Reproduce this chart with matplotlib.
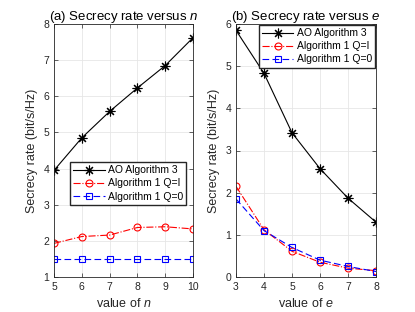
import numpy as np
import matplotlib
matplotlib.use("Agg")
from matplotlib import pyplot as plt

plt.rcParams['font.family'] = ['Liberation Sans', 'DejaVu Sans']
plt.rcParams['mathtext.fontset'] = 'custom'
plt.rcParams['mathtext.it'] = 'Liberation Sans:italic'

# panel (a): secrecy rate vs n
n_vals = [5, 6, 7, 8, 9, 10]
ao_n = [3.95, 4.85, 5.58, 6.23, 6.85, 7.62]
qi_n = [1.93, 2.12, 2.16, 2.37, 2.39, 2.33]
q0_n = [1.50, 1.50, 1.50, 1.50, 1.50, 1.50]

# panel (b): secrecy rate vs e
e_vals = [3, 4, 5, 6, 7, 8]
ao_e = [5.85, 4.83, 3.42, 2.57, 1.87, 1.30]
qi_e = [2.15, 1.12, 0.61, 0.35, 0.21, 0.15]
q0_e = [1.85, 1.10, 0.70, 0.40, 0.25, 0.13]

labels = ['AO Algorithm 3', 'Algorithm 1 Q=I', 'Algorithm 1 Q=0']

fig = plt.figure(figsize=(4.15, 3.12), dpi=100)
ax1 = fig.add_axes([54/415, 1 - 277/312, 139/415, 253/312])
ax2 = fig.add_axes([236/415, 1 - 277/312, 140/415, 253/312])

asterisk = (8, 2, 0)


def draw(ax, x, ao, qi, q0):
    ax.plot(x, ao, 'k-', marker=asterisk, lw=0.8, ms=7, mew=0.8, label=labels[0])
    ax.plot(x, qi, 'r-.o', lw=0.8, ms=5, mfc='none', mew=0.8, label=labels[1])
    ax.plot(x, q0, 'b--s', lw=0.8, ms=4.5, mfc='none', mew=0.8, label=labels[2],
            dashes=(6, 3))
    ax.set_xticks(x)
    ax.grid(True, color='#e6e6e6', lw=0.6)
    ax.set_axisbelow(True)
    ax.tick_params(direction='in', labelsize=7.5, length=3, width=0.5,
                   colors='#262626', top=True, right=True)
    for s in ax.spines.values():
        s.set_linewidth(0.6)
        s.set_color('#262626')
    ax.set_ylabel('Secrecy rate (bit/s/Hz)', fontsize=9, color='#262626')


draw(ax1, n_vals, ao_n, qi_n, q0_n)
ax1.set_xlim(5, 10)
ax1.set_ylim(1, 8)
ax1.set_title('(a) Secrecy rate versus $n$', fontsize=9.5, pad=3)
ax1.set_xlabel('value of $n$', fontsize=9, color='#262626')
ax1.legend(loc='center left', bbox_to_anchor=(0.08, 0.37), fontsize=7.5,
           fancybox=False, edgecolor='#262626', framealpha=1,
           handlelength=3, borderpad=0.3, labelspacing=0.3, handletextpad=0.3)

draw(ax2, e_vals, ao_e, qi_e, q0_e)
ax2.set_xlim(3, 8)
ax2.set_ylim(0, 6)
ax2.set_title('(b) Secrecy rate versus $e$', fontsize=9.5, pad=3)
ax2.set_xlabel('value of $e$', fontsize=9, color='#262626')
ax2.legend(loc='upper right', fontsize=7.5, fancybox=False,
           edgecolor='#262626', framealpha=1, borderaxespad=0.1,
           handlelength=3, borderpad=0.3, labelspacing=0.3, handletextpad=0.3)

fig.savefig('out.png', dpi=100)
